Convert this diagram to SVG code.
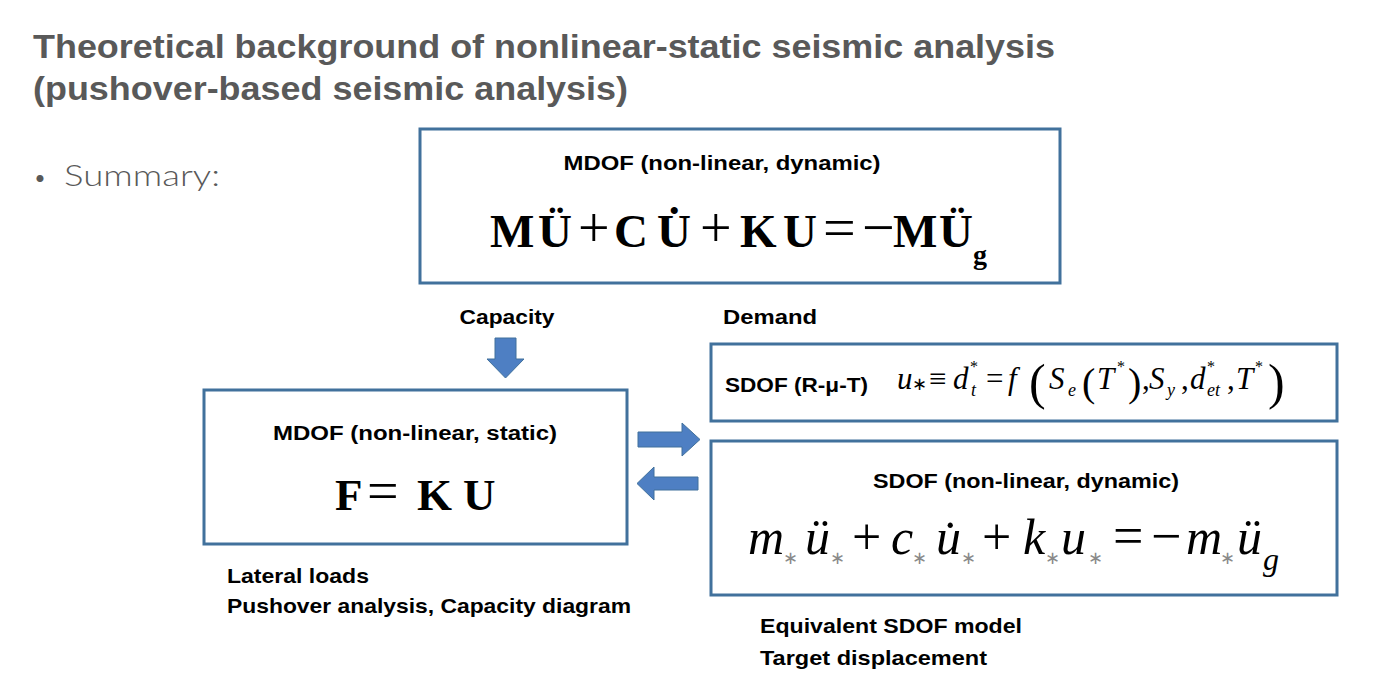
<svg xmlns="http://www.w3.org/2000/svg" width="1395" height="680" viewBox="0 0 1395 680">
<style>
.box{fill:#fff;stroke:#41719C;stroke-width:3}
.arrow{fill:#4E7FC3;stroke:#41719C;stroke-width:1}
.title{font-family:"Liberation Sans",Arial,sans-serif;font-weight:bold;fill:#595959}
.lbl{font-family:"Liberation Sans",Arial,sans-serif;font-weight:bold;fill:#000}
.eqb{font-family:"Liberation Serif","Times New Roman",serif;font-weight:bold;fill:#000}
.eqi{font-family:"Liberation Serif","Times New Roman",serif;font-style:italic;fill:#000}
.n{font-style:normal;font-weight:normal}
.ast{font-style:normal;fill:#8a8a8a}
</style>
<rect width="1395" height="680" fill="#fff"/>
<g id="title">
<text class="title" x="33" y="58" font-size="33" textLength="1022" lengthAdjust="spacingAndGlyphs">Theoretical background of nonlinear-static seismic analysis</text>
<text class="title" x="33" y="100" font-size="33" textLength="595" lengthAdjust="spacingAndGlyphs">(pushover-based seismic analysis)</text>
<text font-family="Lato,'Liberation Sans',sans-serif" font-weight="300" font-size="30" fill="#595959" y="186"><tspan x="33" font-size="24">•</tspan><tspan x="64" textLength="156" lengthAdjust="spacingAndGlyphs">Summary:</tspan></text>
</g>
<g id="mdof-dynamic">
<rect class="box" x="420" y="129" width="640" height="154"/>
<text class="lbl" x="722" y="170" font-size="20" text-anchor="middle" textLength="317" lengthAdjust="spacingAndGlyphs">MDOF (non-linear, dynamic)</text>
<text class="eqb" y="247" font-size="47"><tspan x="490">M</tspan><tspan x="538">Ü</tspan><tspan x="578" class="n" font-size="56">+</tspan><tspan x="614">C</tspan><tspan x="657">U̇</tspan><tspan x="700" class="n" font-size="56">+</tspan><tspan x="740">K</tspan><tspan x="783">U</tspan><tspan x="823" class="n" font-size="58">=</tspan><tspan x="862" class="n" font-size="58">−</tspan><tspan x="893">M</tspan><tspan x="939">Ü</tspan><tspan x="973" y="264" font-size="28">g</tspan></text>
</g>
<g id="mdof-static">
<rect class="box" x="204" y="390" width="423" height="154"/>
<text class="lbl" x="415" y="440" font-size="20" text-anchor="middle" textLength="284" lengthAdjust="spacingAndGlyphs">MDOF (non-linear, static)</text>
<text class="eqb" y="510" font-size="45"><tspan x="335">F</tspan><tspan x="367" class="n" font-size="56">=</tspan><tspan x="417">K</tspan><tspan x="463">U</tspan></text>
</g>
<g id="sdof-rmut">
<rect class="box" x="711" y="344" width="626" height="77"/>
<text class="lbl" x="725" y="392" font-size="20" textLength="143" lengthAdjust="spacingAndGlyphs">SDOF (R-μ-T)</text>
<text class="eqi" y="389" font-size="31"><tspan x="897">u</tspan><tspan x="912" y="390" class="n" font-size="18">∗</tspan><tspan x="929" y="389" class="n">≡</tspan><tspan x="953">d</tspan><tspan x="970" y="372" class="n" font-size="16">*</tspan><tspan x="971" y="396" font-size="18">t</tspan><tspan x="986" y="389" class="n">=</tspan><tspan x="1008">f</tspan><tspan x="1029" y="399" class="n" font-size="50">(</tspan><tspan x="1049" y="389">S</tspan><tspan x="1068" y="396" font-size="18">e</tspan><tspan x="1082" y="396" class="n" font-size="40">(</tspan><tspan x="1097" y="389">T</tspan><tspan x="1117" y="372" class="n" font-size="16">*</tspan><tspan x="1128" y="396" class="n" font-size="40">)</tspan><tspan x="1142" y="389" class="n">,</tspan><tspan x="1149">S</tspan><tspan x="1167" y="396" font-size="18">y</tspan><tspan x="1181" y="389" class="n">,</tspan><tspan x="1190">d</tspan><tspan x="1207" y="372" class="n" font-size="16">*</tspan><tspan x="1207" y="396" font-size="18">et</tspan><tspan x="1227" y="389" class="n">,</tspan><tspan x="1236">T</tspan><tspan x="1255" y="372" class="n" font-size="16">*</tspan><tspan x="1268" y="399" class="n" font-size="50">)</tspan></text>
</g>
<g id="sdof-dynamic">
<rect class="box" x="711" y="441" width="626" height="154"/>
<text class="lbl" x="1026" y="488" font-size="20" text-anchor="middle" textLength="306" lengthAdjust="spacingAndGlyphs">SDOF (non-linear, dynamic)</text>
<text class="eqi" y="554" font-size="50"><tspan x="748">m</tspan><tspan x="783" y="564" class="ast" font-size="18">∗</tspan><tspan x="805" y="554">ü</tspan><tspan x="830" y="564" class="ast" font-size="18">∗</tspan><tspan x="852" y="554" class="n" font-size="52">+</tspan><tspan x="891">c</tspan><tspan x="912" y="564" class="ast" font-size="18">∗</tspan><tspan x="936" y="554">u̇</tspan><tspan x="961" y="564" class="ast" font-size="18">∗</tspan><tspan x="982" y="554" class="n" font-size="52">+</tspan><tspan x="1023">k</tspan><tspan x="1045" y="564" class="ast" font-size="18">∗</tspan><tspan x="1061" y="554">u</tspan><tspan x="1088" y="564" class="ast" font-size="18">∗</tspan><tspan x="1113" y="554" class="n" font-size="54">=</tspan><tspan x="1151" class="n" font-size="54">−</tspan><tspan x="1186">m</tspan><tspan x="1220" y="564" class="ast" font-size="18">∗</tspan><tspan x="1237" y="554">ü</tspan><tspan x="1263" y="570" font-size="32">g</tspan></text>
</g>
<g id="labels">
<text class="lbl" x="507" y="324" font-size="20" text-anchor="middle" textLength="95" lengthAdjust="spacingAndGlyphs">Capacity</text>
<text class="lbl" x="723" y="324" font-size="20" textLength="94" lengthAdjust="spacingAndGlyphs">Demand</text>
<text class="lbl" x="227" y="583" font-size="21" textLength="142" lengthAdjust="spacingAndGlyphs">Lateral loads</text>
<text class="lbl" x="227" y="613" font-size="21" textLength="404" lengthAdjust="spacingAndGlyphs">Pushover analysis, Capacity diagram</text>
<text class="lbl" x="760" y="633" font-size="21" textLength="262" lengthAdjust="spacingAndGlyphs">Equivalent SDOF model</text>
<text class="lbl" x="760" y="665" font-size="21" textLength="227" lengthAdjust="spacingAndGlyphs">Target displacement</text>
</g>
<g id="connectors">
<path class="arrow" d="M495,338 H516 V359 H524 L505.5,378 L487,359 H495 Z"/>
<path class="arrow" d="M638,432 H682 V423 L700,439.5 L682,456 V447 H638 Z"/>
<path class="arrow" d="M698,477 H654 V467 L637,483.5 L654,500 V490 H698 Z"/>
</g>
</svg>
